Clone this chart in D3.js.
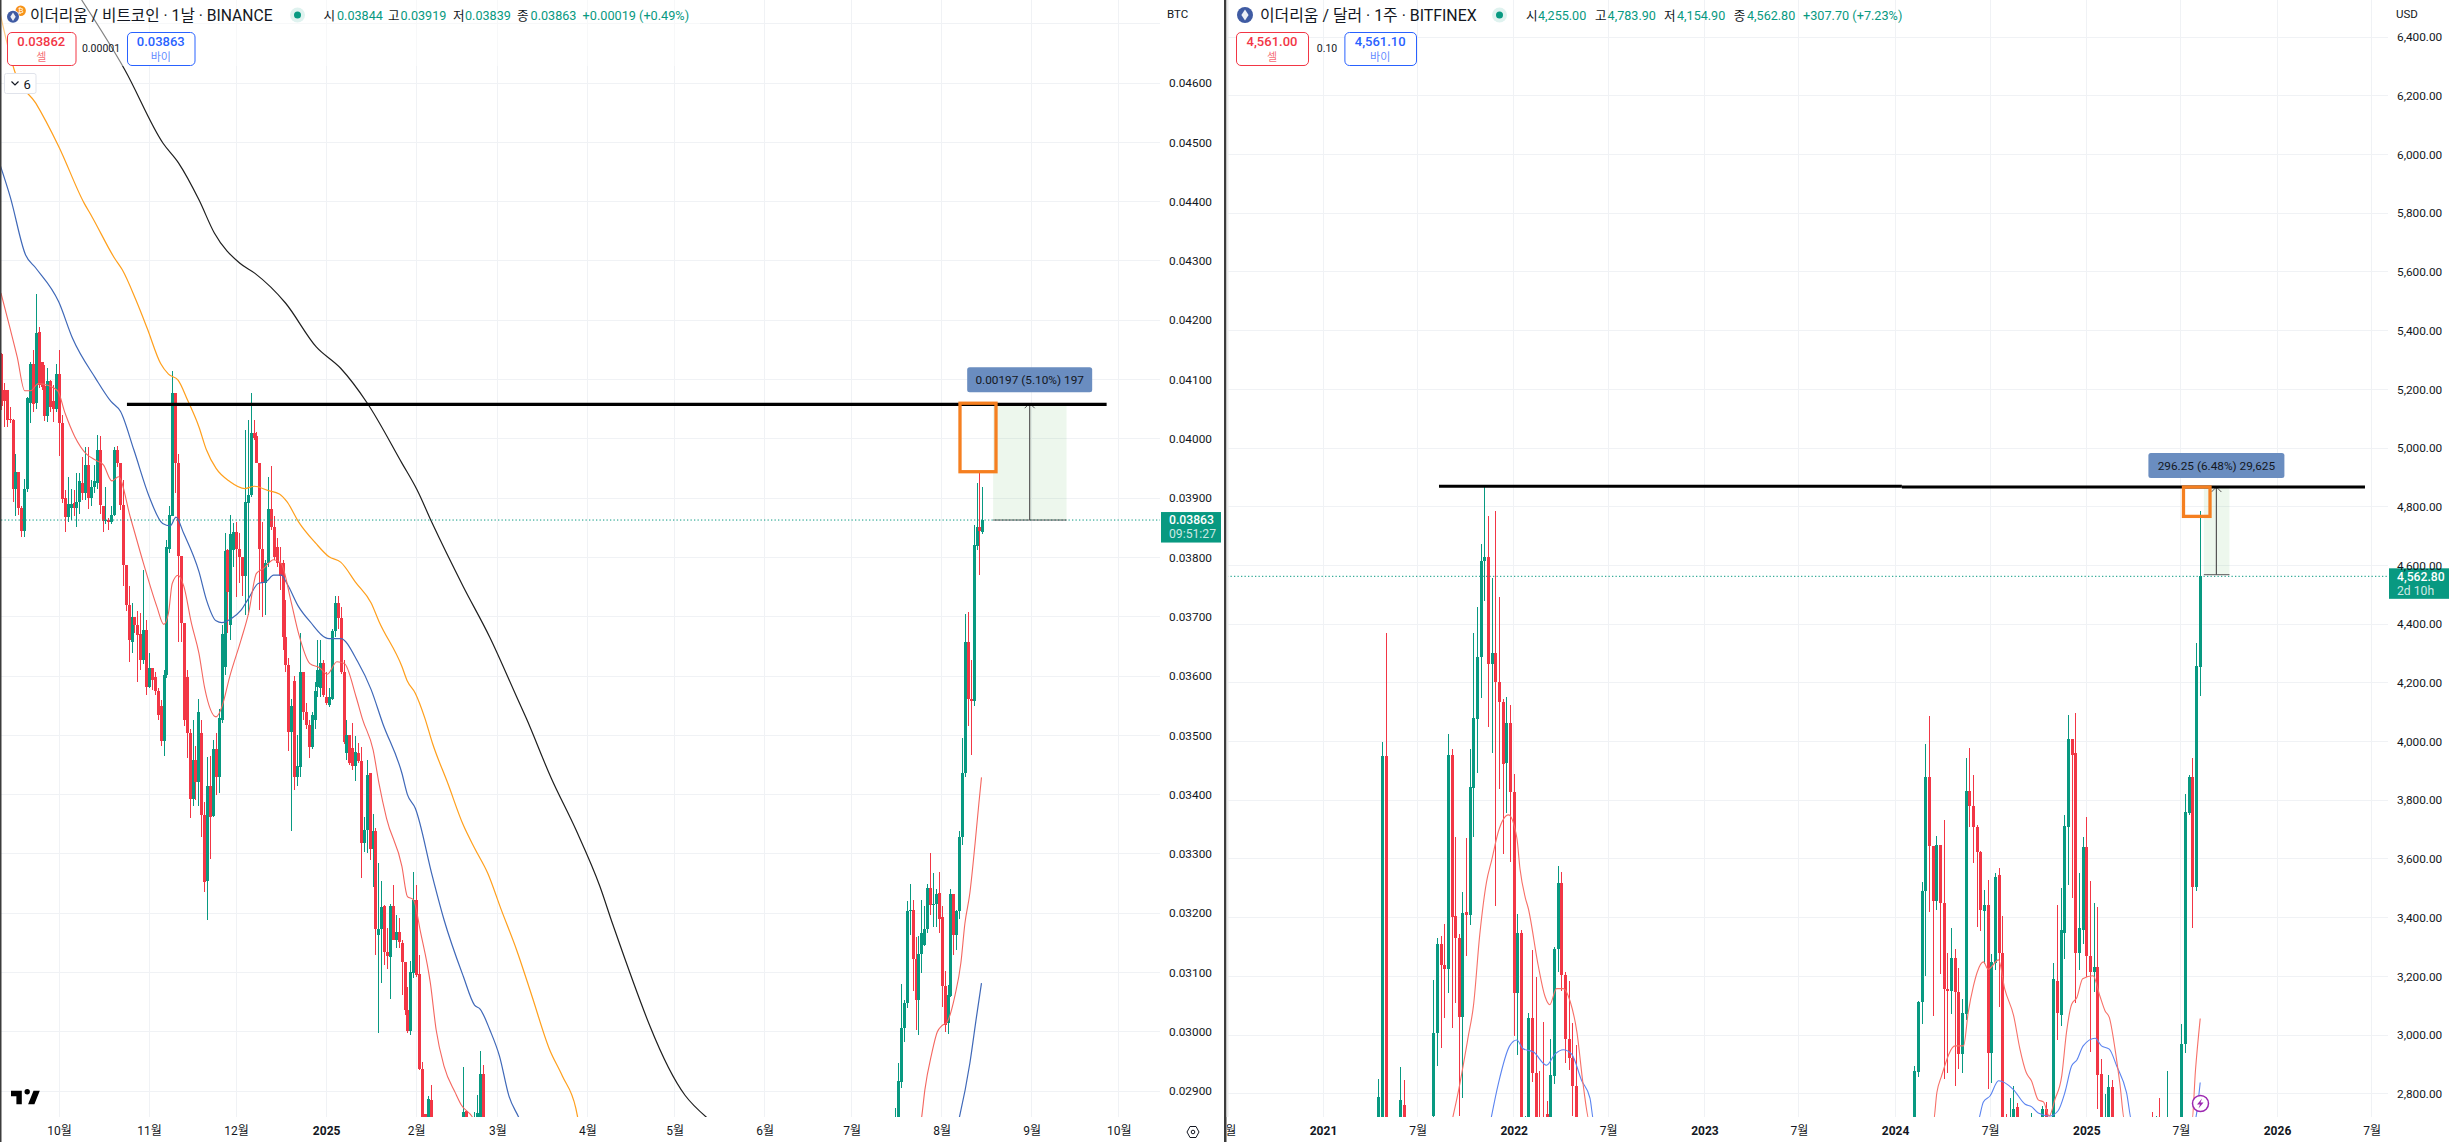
<!DOCTYPE html>
<html lang="ko"><head><meta charset="utf-8">
<script src="https://cdn.jsdelivr.net/npm/d3@7/dist/d3.min.js"></script>
<style>html,body{margin:0;padding:0;background:#fff;overflow:hidden}svg{display:block}
text{font-family:Roboto,'Noto Sans CJK KR',sans-serif}</style></head><body>
<svg id="c" width="2452" height="1142" viewBox="0 0 2452 1142"></svg>
<script>
// ---------- LEFT PANE: ETH/BTC daily, prices in 1e-5 BTC ----------
const leftTickDates=["2024-10-01","2024-11-01","2024-12-01","2025-01-01","2025-02-01","2025-03-01","2025-04-01","2025-05-01","2025-06-01","2025-07-01","2025-08-01","2025-09-01","2025-10-01"];
const leftTickLabels=["10월","11월","12월","2025","2월","3월","4월","5월","6월","7월","8월","9월","10월"];
const leftPriceTicks=[2900,3000,3100,3200,3300,3400,3500,3600,3700,3800,3900,4000,4100,4200,4300,4400,4500,4600];
const leftGridExtra=[4700];
const leftAStart="2024-09-11";
const leftAOpen=[4143,4082,4082,4033,4032,3916,3944,3884,3845,3916,
4060,4126,4060,4180,4130,4089,4038,4097,4063,4051,
4109,4026,3900,3868,3884,3891,3884,3894,3926,3909,
3956,3901,3918,3926,3981,3887,3862,3863,3860,3872,
3981,3959,3888,3787,3719,3658,3700,3686,3671,3627,
3677,3582,3613,3599,3574,3550,3491,3602,3815,3870,
4077,3960,3803,3689,3599,3504,3393,3459,3422,3504,
3366,3255,3415,3364,3477,3430,3526,3616,3813,3686,
3812,3842,3815,3801,3769,3892,3905,4009,4004,3960,
3815,3756,3790,3881,3852,3818,3790,3790,3666,3619,
3505,3591,3430,3447,3607,3540,3518,3480,3526,3582,
3579,3622,3565,3551,3562,3676,3723,3697,3607,3470,
3500,3478,3449,3470,3456,3318,3341,3436,3308,3338,
3164,3174,3212,3134,3126,3212,3155,3169,3149,3117,
3037,3001,3099,3223,3097,2937,2862,2840,2885,
null,null,null,null,null,null,null,null,null,null,2840,2866,null,null,2835,2840,2840,2929];
const leftAHigh=[4144,4094,4082,4054,4034,3974,3944,3886,3932,4071,
4130,4150,4244,4188,4130,4124,4119,4099,4091,4126,
4150,4040,3914,3936,3916,3914,3943,3942,3969,3987,
3987,3931,3956,4006,4004,3887,3919,3866,3886,3987,
3988,3959,3931,3787,3751,3723,3700,3709,3707,3779,
3694,3638,3613,3607,3580,3560,3610,3829,3886,4115,
4077,3975,3803,3689,3610,3510,3526,3482,3562,3526,
3387,3464,3465,3492,3504,3545,3686,3841,3815,3871,
3858,3860,3841,3801,4015,4032,4077,4032,4012,3960,
3860,3796,3936,3954,3869,3832,3818,3796,3728,3630,
3562,3600,3500,3672,3607,3555,3526,3540,3590,3661,
3660,3627,3607,3580,3680,3735,3735,3717,3627,3526,
3500,3520,3498,3487,3481,3363,3459,3436,3367,3343,
3284,3255,3214,3175,3216,3248,3197,3192,3155,3116,
3076,3119,3270,3248,3130,2949,2862,2892,2911,
null,null,null,null,null,null,null,null,null,null,2941,2866,null,null,2865,2894,2968,2944];
const leftALow=[4049,4020,4020,4026,3894,3870,3871,3834,3834,3910,
4027,4046,4050,4085,4082,4030,4029,4046,4029,4046,
3971,3891,3842,3860,3863,3869,3852,3874,3897,3897,
3882,3887,3908,3916,3874,3842,3856,3846,3856,3869,
3953,3880,3751,3710,3624,3638,3672,3590,3610,3621,
3568,3579,3576,3568,3525,3482,3465,3596,3807,3869,
3908,3658,3658,3515,3462,3360,3380,3391,3380,3329,
3235,3188,3292,3362,3400,3403,3521,3602,3672,3661,
3784,3734,3756,3735,3703,3703,3902,3998,3959,3711,
3700,3703,3784,3846,3796,3784,3745,3644,3607,3474,
3338,3408,3414,3430,3526,3510,3462,3477,3510,3565,
3565,3565,3551,3548,3560,3665,3680,3604,3486,3459,
3450,3442,3423,3453,3259,3304,3301,3290,3244,3130,
2998,3082,3113,3106,3055,3154,3141,3141,3062,3029,
2998,2994,3090,3093,2936,2830,2820,2830,2830,
null,null,null,null,null,null,null,null,null,null,2830,2830,null,null,2830,2830,2830,2830];
const leftAClose=[4055,4063,4032,4031,3916,3944,3884,3845,3916,4068,
4126,4059,4178,4091,4088,4038,4097,4054,4051,4109,
4026,3898,3868,3890,3890,3884,3894,3928,3909,3956,
3901,3918,3928,3981,3888,3862,3863,3860,3872,3981,
3959,3888,3787,3719,3660,3700,3686,3669,3627,3677,
3582,3613,3593,3574,3534,3491,3602,3818,3872,4077,
3960,3803,3689,3526,3504,3393,3459,3422,3540,3366,
3253,3415,3363,3477,3430,3530,3670,3810,3741,3840,
3842,3815,3801,3769,3894,3905,4009,4001,3960,3815,
3756,3790,3881,3852,3801,3790,3769,3666,3619,3505,
3549,3430,3448,3607,3540,3518,3481,3534,3574,3610,
3622,3568,3554,3565,3676,3723,3697,3607,3488,3500,
3453,3449,3471,3456,3318,3341,3433,3308,3339,3174,
3174,3210,3134,3127,3212,3155,3169,3151,3117,3037,
3001,3101,3223,3096,2937,2840,2830,2887,2840,
null,null,null,null,null,null,null,null,null,null,2864,2840,null,null,2856,2863,2929,2840];
const leftBStart="2025-07-16";
const leftBOpen=[2820,2830,2916,3006,3048,3204,3205,3122,3054,3131,3146,3173,3242,3215,3215,3234,3194,3078,3014,3061,3232,3163,3203,3328,3436,3658,3562,3557,3820,3851,3843];
const leftBHigh=[2871,2947,3081,3054,3221,3249,3222,3160,3162,3222,3212,3249,3302,3268,3240,3270,3212,3103,3079,3241,3233,3205,3339,3495,3704,3708,3627,3855,3925,3942,3919];
const leftBLow=[2800,2820,2905,2982,3040,3163,3069,3003,2995,3099,3144,3167,3197,3177,3177,3166,3041,3000,2997,3059,3130,3138,3191,3315,3430,3516,3467,3550,3812,3770,3839];
const leftBClose=[2835,2917,3006,3048,3204,3205,3122,3054,3131,3166,3173,3242,3214,3216,3232,3191,3078,3012,3062,3232,3163,3204,3328,3436,3658,3562,3558,3821,3851,3844,3863];
// moving averages: days after 2024-10-01, value
const leftRedDays=[-20,-17,-14.4,-11.8,-9.8,-7.1,-0.6,2.1,5.4,9.3,12.6,15.3,18.2,20.5,24.5,29.1,33.7,36.1,37.7,39,41,43,45.6,48.2,50.2,54.1,56.1,58.8,62.7,65.3,68,70.6,73.9,76.5,79.8,82.5,86.4,89.7,92.4,95.7,98.3,102.3,104.6,108.2,110.2,112.8,118.1,120,122,124.6,127.9,129.9,132.6,136.5,138.5,142.4,145.7,294,297.1,298.2,300.6,302.5,304,305.9,308.6,310.6,312,313.7,315.5,316.8,317.7];
const leftRedValues=[4246,4189,4138,4081,4081,4093,4082,4043,4004,3975,3964,3956,3929,3936,3869,3790,3717,3687,3706,3756,3770,3751,3689,3638,3579,3531,3548,3599,3661,3706,3773,3782,3796,3790,3728,3672,3621,3614,3603,3624,3621,3565,3526,3475,3419,3360,3279,3228,3223,3166,3082,3003,2942,2897,2877,2856,2818,2800,2856,2902,2964,3000,3010,3017,3062,3116,3183,3234,3318,3385,3429];
const leftBlueDays=[-20.3,-16.8,-11.5,-8,-0.1,4.7,12.6,17.9,21.2,25.8,31.1,35.7,38.3,40.3,42.9,48.2,50.8,54.1,56.1,59.4,62.7,65.3,68.6,71.3,73.9,76.5,78.5,82.5,86.4,93,97,102.9,107.5,111.5,118.1,120,122.7,128.6,132.6,139.2,143.1,145.1,148.4,151.7,155,158.3,161.6,307,310.1,313.7,316,317.7];
const leftBlueValues=[4462,4408,4310,4288,4231,4169,4102,4063,4046,3981,3902,3857,3853,3868,3841,3776,3728,3693,3690,3697,3711,3731,3756,3759,3770,3770,3756,3717,3692,3663,3663,3624,3577,3520,3436,3400,3377,3262,3189,3094,3045,3038,3003,2959,2891,2856,2818,2800,2856,2947,3026,3082];
const leftOrangeDays=[-20.3,-15,-8,-0.1,8.7,11.3,19.2,21.8,26.5,30.4,35,37.7,41,44.3,48.2,50.8,54.1,58.8,64,67.3,71.9,75.9,78.5,82.5,88.4,93,97,102.3,107.5,110.2,118.1,120,122.7,126,128.6,133.9,139.2,143.1,147.7,152.3,157.6,162.9,168.8,173.4,178,180];
const leftOrangeValues=[4718,4616,4566,4493,4397,4375,4304,4285,4234,4186,4127,4109,4099,4065,4020,3981,3950,3928,3916,3920,3913,3907,3894,3860,3824,3801,3792,3757,3723,3692,3616,3591,3571,3529,3487,3419,3349,3310,3267,3206,3138,3060,2972,2925,2871,2818];
const leftBlackDays=[7.8,22.7,35.9,41.2,48.2,53.5,62.3,67.5,78,88.6,97,106.2,118.1,123.3,128.6,139.2,148.4,157.6,160.9,169.5,178,186.3,190.8,215.6,223.2];
const leftBlackValues=[4740,4622,4498,4465,4403,4347,4296,4279,4229,4155,4119,4060,3959,3914,3857,3751,3665,3565,3529,3428,3341,3245,3180,2893,2855];
const leftLast=3863, leftTarget=4058;

// ---------- RIGHT PANE: ETH/USD weekly ----------
const rightTickDates=["2020-07-01","2021-01-01","2021-07-01","2022-01-01","2022-07-01","2023-01-01","2023-07-01","2024-01-01","2024-07-01","2025-01-01","2025-07-01","2026-01-01","2026-07-01"];
const rightTickLabels=["7월","2021","7월","2022","7월","2023","7월","2024","7월","2025","7월","2026","7월"];
const rightPriceTicks=[2800,3000,3200,3400,3600,3800,4000,4200,4400,4600,4800,5000,5200,5400,5600,5800,6000,6200,6400];
const rightAStart="2021-04-17";
const rightAOpen=[2700,2700,3950,null,null,null,2700,2760,null,null,null,null,null,null,null,
2725,3007,3311,3239,3224,3953,3404,3329,3060,3419,3410,3843,4078,4289,4616,4627,4263,4300,4203,4135,3927,4063,3828,3144,3349,2690,2700,3058,2872,2700,2720,2730,2700,2860,3293,3519,3203,2988,2920,2827];
const rightAHigh=[2850,4000,4370,null,null,null,2890,2845,null,null,null,null,null,null,null,
3186,3331,3338,3379,4025,3973,3675,3344,3487,3672,3973,4371,4457,4672,4868,4767,4556,4785,4492,4146,4153,4126,3890,3413,3359,2724,3075,3288,3198,2878,3045,2774,2988,3299,3577,3555,3216,3183,3040,2965];
const rightALow=[2680,2680,2680,null,null,null,2680,2680,null,null,null,null,null,null,null,
2700,2893,2956,3058,3143,3025,3108,2724,2785,3269,3374,3676,3893,4149,4480,4050,3961,3439,3837,3616,3755,3589,2998,2932,2680,2650,2680,2840,2680,2660,2680,2680,2680,2833,3213,3150,2905,2882,2724,2680];
const rightAClose=[2790,3950,2700,null,null,null,2780,2700,null,null,null,null,null,null,null,
3007,3311,3239,3224,3953,3401,3329,3060,3416,3410,3845,4081,4289,4616,4627,4263,4300,4203,4135,3923,4063,3828,3144,3349,2700,2700,3058,2872,2700,2680,2700,2700,2863,3293,3519,3203,2988,2920,2827,2700];
const rightBStart="2024-02-07";
const rightBOpen=[2700,2874,3111,3489,3878,3644,3457,3649,3451,3158,3150,3264,3148,2935,3071,3830,3781,3707,3624,3423,3442,2938,3247,3544,3279,2700,2700,2700,2753,null,null,null,2700,null,null,2700,2747,null,2700,3184,3068,3347,3709,4008,3960,3279,3357,3639,3270,3213,3233,2866,2700,2700,2824,null,null,null,null,null,null,null,null,null,null,2710,2700,2710,null,2700,null,null,null,2700,2970,3757,3879,3503,4255];
const rightBHigh=[2895,3116,3522,3991,4087,3644,3679,3649,3732,3279,3364,3292,3228,3122,3945,3977,3885,3715,3627,3493,3527,3275,3551,3568,3406,2730,2785,2827,2768,null,null,null,2733,null,null,2759,2772,null,3245,3442,3500,3749,4090,4008,4096,3551,3676,3744,3524,3451,3437,2918,2798,2863,2846,null,null,null,null,null,null,null,null,null,null,2739,2725,2787,null,2878,null,null,null,3038,3821,3887,3943,4335,4784];
const rightBLow=[2680,2856,3037,3202,3420,3065,3425,3207,2849,2870,3071,2827,2884,2870,3050,3707,3585,3368,3355,3241,2815,2838,3220,3094,2680,2660,2680,2680,2680,null,null,null,2680,null,null,2680,2680,null,2680,2983,3031,3258,3510,3468,3110,3222,3309,3196,2943,3147,2747,2680,2680,2680,2680,null,null,null,null,null,null,null,null,null,null,2680,2680,2680,null,2680,null,null,null,2680,2939,3750,3366,3490,4155];
const rightBClose=[2878,3113,3490,3878,3644,3457,3649,3449,3156,3150,3264,3145,2935,3074,3830,3781,3707,3624,3426,3442,2938,3250,3540,3279,2700,2680,2710,2749,2700,null,null,null,2710,null,null,2747,2700,null,3190,3074,3357,3713,4008,3953,3279,3366,3639,3270,3215,3233,2864,2700,2710,2824,2700,null,null,null,null,null,null,null,null,null,null,2700,2710,2700,null,2710,null,null,null,2970,3760,3879,3503,4256,4563];
// moving averages: days after 2021-01-01, value
const rightRedDays=[246,259,278,288,300,313,323,336,355,371,377,387,393,412,425,434,447,460,473,486,498,511,1168,1175,1184,1210,1226,1235,1245,1252,1264,1273,1293,1305,1322,1334,1346,1356,1369,1379,1390,1401,1414,1423,1433,1443,1454,1474,1487,1497,1505,1516,1525,1535,1663,1670,1679];
const rightRedValues=[2700,2807,2995,3100,3341,3522,3597,3695,3750,3672,3567,3469,3431,3236,3131,3103,3158,3158,3115,3010,2830,2700,2700,2804,2861,2963,2963,3077,3167,3213,3249,3224,3256,3156,3065,2952,2872,2844,2779,2772,2724,2781,2861,3008,3105,3128,3192,3202,3133,3082,3060,2952,2838,2700,2700,2881,3056];
const rightBlueDays=[320,336,357,371,383,403,428,444,460,476,495,511,519,1252,1264,1277,1293,1321,1344,1356,1369,1391,1407,1420,1433,1443,1455,1478,1490,1505,1519,1538,1549,1667,1679];
const rightBlueValues=[2700,2837,2962,2983,2953,2942,2897,2935,2950,2935,2845,2785,2700,2700,2772,2793,2844,2815,2764,2756,2734,2724,2742,2804,2895,2915,2963,2989,2963,2952,2895,2804,2700,2700,2838];
const rightLast=4562.8;

// ---------- colours ----------
const UP="#089981",DOWN="#f23645",GRID="#f0f2f5",TXT="#131722";

const svg=d3.select("#c");
const defs=svg.append("defs");
const parse=d3.utcParse("%Y-%m-%d");
const dayAfter=(base,n)=>new Date(+base+n*864e5);

function candleRows(start,step,o,h,l,c){
  const s=parse(start);
  return o.map((v,i)=>v==null?null:{date:d3.utcDay.offset(s,i*step),o:v,h:h[i],l:l[i],c:c[i]}).filter(Boolean);
}
function drawPane(cfg){
  const {x,y,left,right,bottom,id}=cfg;
  defs.append("clipPath").attr("id",id).append("rect").attr("x",left).attr("y",0).attr("width",right-left).attr("height",bottom);
  defs.append("clipPath").attr("id",id+"a").append("rect").attr("x",left).attr("y",bottom).attr("width",right-left).attr("height",40);
  const grid=svg.append("g").attr("shape-rendering","crispEdges");
  grid.selectAll(".h").data(cfg.gridPrices).join("line").attr("x1",left).attr("x2",right)
    .attr("y1",d=>y(d)).attr("y2",d=>y(d)).attr("stroke",GRID);
  grid.selectAll(".v").data(cfg.tickDates.filter(d=>x(d)>left)).join("line").attr("y1",0).attr("y2",bottom)
    .attr("x1",d=>x(d)).attr("x2",d=>x(d)).attr("stroke",GRID);
  const plot=svg.append("g").attr("clip-path",`url(#${id})`);
  const g=plot.append("g").attr("shape-rendering","crispEdges");
  g.selectAll(".w").data(cfg.candles).join("line")
    .attr("x1",d=>Math.round(x(d.date))+.5).attr("x2",d=>Math.round(x(d.date))+.5)
    .attr("y1",d=>y(d.h)).attr("y2",d=>y(d.l)).attr("stroke",d=>d.c>=d.o?UP:DOWN).attr("stroke-width",1);
  g.selectAll(".b").data(cfg.candles).join("rect")
    .attr("x",d=>Math.round(x(d.date))-1).attr("width",3)
    .attr("y",d=>y(Math.max(d.o,d.c))).attr("height",d=>Math.max(1,Math.abs(y(d.o)-y(d.c))))
    .attr("fill",d=>d.c>=d.o?UP:DOWN);
  const line=d3.line().x(d=>x(d[0])).y(d=>y(d[1])).curve(d3.curveMonotoneX);
  cfg.lines.forEach(L=>{
    plot.append("path").attr("d",line(L.days.map((d,i)=>[dayAfter(cfg.maBase,d),L.values[i]])))
      .attr("fill","none").attr("stroke",L.color).attr("stroke-width",L.width||1.2);
  });
  return plot;
}
function axes(cfg){
  const {x,y,left,right,bottom,id}=cfg;
  const ax=svg.append("g").attr("clip-path",`url(#${id}a)`).attr("transform",`translate(0,0)`)
    .append("g").attr("transform",`translate(0,${bottom})`)
    .call(d3.axisBottom(x).tickValues(cfg.tickDates).tickSize(0).tickPadding(9).tickFormat((d,i)=>cfg.tickLabels[i]));
  ax.select(".domain").remove();
  ax.selectAll("text").attr("font-size",12).attr("fill",TXT)
    .attr("font-family","Roboto,'Noto Sans CJK KR',sans-serif")
    .attr("font-weight",(d,i)=>/^\d{4}$/.test(cfg.tickLabels[i])?700:400);
  const ay=svg.append("g").attr("transform",`translate(${right},0)`)
    .call(d3.axisRight(y).tickValues(cfg.priceTicks).tickSize(0).tickPadding(9).tickFormat(cfg.priceFmt));
  ay.select(".domain").remove();
  ay.selectAll("text").attr("font-size",11.8).attr("fill",TXT).attr("font-family","Roboto,sans-serif");
}
function lastLine(cfg,val,l1,l2){
  const {y,left,right}=cfg;
  svg.append("line").attr("x1",left).attr("x2",right).attr("y1",y(val)).attr("y2",y(val))
    .attr("stroke",UP).attr("stroke-dasharray","1.3 2.2").attr("stroke-width",1);
  const yy=y(val);
  svg.append("rect").attr("x",right+1).attr("y",yy-8).attr("width",60).attr("height",30.5).attr("fill",UP);
  svg.append("text").attr("x",right+9).attr("y",yy+4.3).attr("font-size",12.2).attr("font-weight",500).attr("fill","#fff").text(l1);
  svg.append("text").attr("x",right+9).attr("y",yy+18.3).attr("font-size",12.2).attr("fill","#fff").attr("fill-opacity",.8).text(l2);
}
function measure(cfg,a){
  const {x,y}=cfg;
  const d=n=>x(dayAfter(cfg.maBase,n));
  svg.append("rect").attr("x",d(a.boxFrom)).attr("width",d(a.boxTo)-d(a.boxFrom))
    .attr("y",y(a.top)).attr("height",y(a.bot)-y(a.top)).attr("fill","#4caf50").attr("fill-opacity",.1);
  svg.append("line").attr("x1",d(a.boxFrom)).attr("x2",d(a.boxTo)).attr("y1",y(a.bot)).attr("y2",y(a.bot)).attr("stroke","#555").attr("stroke-width",1);
  svg.append("line").attr("x1",d(a.mid)).attr("x2",d(a.mid)).attr("y1",y(a.bot)).attr("y2",y(a.top)).attr("stroke","#555").attr("stroke-width",1.2);
  const mx=d(a.mid),my=y(a.top);
  svg.append("path").attr("d",`M${mx-5},${my+5}L${mx},${my}L${mx+5},${my+5}`).attr("fill","none").attr("stroke","#555").attr("stroke-width",1);
  a.lines.forEach(L=>{
    svg.append("line").attr("x1",d(L[0])).attr("x2",d(L[1])).attr("y1",y(L[2])).attr("y2",y(L[2]))
      .attr("stroke","#000").attr("stroke-width",a.blackWidth);
  });
  svg.append("rect").attr("x",d(a.rectFrom)).attr("width",d(a.rectTo)-d(a.rectFrom))
    .attr("y",y(a.top)).attr("height",y(a.rectBot)-y(a.top)).attr("fill","none").attr("stroke","#f57f20").attr("stroke-width",3.3);
  svg.append("rect").attr("x",mx-a.labelW/2).attr("y",my-a.labelDy).attr("width",a.labelW).attr("height",25).attr("rx",2.5).attr("fill","#6a8dc0");
  svg.append("text").attr("x",mx).attr("y",my-a.labelDy+16.5).attr("text-anchor","middle").attr("font-size",11.8).attr("fill",TXT).text(a.label);
}
function tradeBox(px,pw,c,val,sub){
  const g=svg.append("g");
  g.append("rect").attr("x",px+.5).attr("y",32.5).attr("width",pw).attr("height",33).attr("rx",4.5).attr("fill","#fff").attr("stroke",c).attr("stroke-width",1);
  g.append("text").attr("x",px+pw/2).attr("y",46).attr("text-anchor","middle").attr("font-size",13).attr("font-weight",500).attr("fill",c).text(val);
  g.append("text").attr("x",px+pw/2).attr("y",60.5).attr("text-anchor","middle").attr("font-size",11).attr("fill",c).attr("fill-opacity",.75).attr("font-family","'Noto Sans CJK KR',sans-serif").text(sub);
}
function header(o){
  svg.append("text").attr("x",o.titleX).attr("y",20.5).attr("font-size",o.titleSize).attr("fill",TXT).attr("font-family","'Noto Sans CJK KR',Roboto,sans-serif").text(o.title);
  svg.append("circle").attr("cx",o.dotX).attr("cy",15).attr("r",7.5).attr("fill",UP).attr("fill-opacity",.13);
  svg.append("circle").attr("cx",o.dotX).attr("cy",15).attr("r",3.5).attr("fill",UP);
  o.items.forEach(it=>{
    svg.append("text").attr("x",it[1]).attr("y",19.5).attr("font-size",12.6).attr("fill",TXT).attr("font-family","'Noto Sans CJK KR',sans-serif").text(it[0]);
    svg.append("text").attr("x",it[3]).attr("y",19.5).attr("font-size",12.6).attr("fill",UP).text(it[2]);
  });
  svg.append("text").attr("x",o.chgX).attr("y",19.5).attr("font-size",12.7).attr("fill",UP).text(o.chg);
}
function ethIcon(cx,cy,r){
  svg.append("circle").attr("cx",cx).attr("cy",cy).attr("r",r).attr("fill","#3f5ba3");
  const s=r/6;
  svg.append("path").attr("transform",`translate(${cx},${cy}) scale(${s})`).attr("d","M0,-4.2L2.7,0L0,4.2L-2.7,0Z").attr("fill","#fff").attr("fill-opacity",.9);
}

// ---------- left pane ----------
const xL=d3.scaleUtc().domain([parse("2024-10-01"),parse("2025-08-01")]).range([59,941.7]);
const yL=d3.scaleLinear().domain([2900,4600]).range([1091.1,83]);
const cfgL={id:"pl",x:xL,y:yL,left:1,right:1160,bottom:1117,maBase:parse("2024-10-01"),
  gridPrices:leftPriceTicks.concat(leftGridExtra),tickDates:leftTickDates.map(parse),tickLabels:leftTickLabels,
  priceTicks:leftPriceTicks,priceFmt:d=>d3.format(".5f")(d/1e5),
  candles:candleRows(leftAStart,1,leftAOpen,leftAHigh,leftALow,leftAClose).concat(candleRows(leftBStart,1,leftBOpen,leftBHigh,leftBLow,leftBClose)),
  lines:[{days:leftBlackDays,values:leftBlackValues,color:"#1e1e1e",width:1.2},
         {days:leftOrangeDays,values:leftOrangeValues,color:"#ff9f1c",width:1.2},
         {days:leftBlueDays,values:leftBlueValues,color:"#3f68b8",width:1.2},
         {days:leftRedDays,values:leftRedValues,color:"#f4665f",width:1.1}]};
drawPane(cfgL);
lastLine(cfgL,leftLast,"0.03863","09:51:27");
measure(cfgL,{boxFrom:321.7,boxTo:347,mid:334.3,top:4060,bot:leftLast,rectFrom:310.3,rectTo:322.7,rectBot:3944.5,
  lines:[[23.4,360.8,leftTarget]],blackWidth:3.2,labelW:125,labelDy:36,label:"0.00197 (5.10%) 197"});
svg.append("rect").attr("x",0).attr("y",0).attr("width",700).attr("height",66).attr("fill","#fff").attr("fill-opacity",.45);
axes(cfgL);

// ---------- right pane ----------
const xR=d3.scaleUtc().domain([parse("2021-01-01"),parse("2026-01-01")]).range([1323,2277]);
const yR=d3.scaleLinear().domain([2800,6400]).range([1093.7,37.1]);
const cfgR={id:"pr",x:xR,y:yR,left:1227,right:2388,bottom:1117,maBase:parse("2021-01-01"),
  gridPrices:rightPriceTicks,tickDates:rightTickDates.map(parse),tickLabels:rightTickLabels,
  priceTicks:rightPriceTicks,priceFmt:d3.format(",.2f"),
  candles:candleRows(rightAStart,7,rightAOpen,rightAHigh,rightALow,rightAClose).concat(candleRows(rightBStart,7,rightBOpen,rightBHigh,rightBLow,rightBClose)),
  lines:[{days:rightBlueDays,values:rightBlueValues,color:"#5b84f0",width:1.1},
         {days:rightRedDays,values:rightRedValues,color:"#f77068",width:1.1}]};
drawPane(cfgR);
lastLine(cfgR,rightLast,"4,562.80","2d 10h");
measure(cfgR,{boxFrom:1686,boxTo:1735,mid:1710,top:4867,bot:4568.3,rectFrom:1647,rectTo:1697.8,rectBot:4767,
  lines:[[222,1108,4870],[1108,1994.4,4867]],blackWidth:3,labelW:136,labelDy:34,label:"296.25 (6.48%) 29,625"});
axes(cfgR);

// ---------- chrome ----------
svg.append("rect").attr("x",0).attr("y",0).attr("width",1.5).attr("height",1142).attr("fill","#3c3c3c");
svg.append("rect").attr("x",1224).attr("y",0).attr("width",2.5).attr("height",1142).attr("fill","#3c3c3c");
svg.append("rect").attr("x",1226.5).attr("y",0).attr("width",2).attr("height",1117).attr("fill","#ececec");

svg.append("circle").attr("cx",20.7).attr("cy",10.7).attr("r",5.2).attr("fill","#f7931a");
svg.append("text").attr("x",20.7).attr("y",13.4).attr("text-anchor","middle").attr("font-size",7.5).attr("fill","#fff").text("₿");
svg.append("circle").attr("cx",13).attr("cy",16.7).attr("r",6.6).attr("fill","#fff");
ethIcon(13,16.7,6);
header({title:"이더리움 / 비트코인 · 1날 · BINANCE",titleX:30,titleSize:15.7,dotX:297.5,
  items:[["시",323.5,"0.03844",337],["고",388,"0.03919",400.5],["저",453,"0.03839",465],["종",517,"0.03863",530.6]],
  chgX:582.6,chg:"+0.00019 (+0.49%)"});
tradeBox(7,68.5,"#f23645","0.03862","셀");
tradeBox(127,67.5,"#2962ff","0.03863","바이");
svg.append("text").attr("x",101).attr("y",52).attr("text-anchor","middle").attr("font-size",10.5).attr("fill",TXT).text("0.00001");
svg.append("rect").attr("x",4.5).attr("y",73.5).attr("width",31.5).attr("height",20).attr("rx",2).attr("fill","#fff").attr("stroke","#e0e3eb");
svg.append("path").attr("d","M11.5,81.5l3.5,3.5l3.5,-3.5").attr("fill","none").attr("stroke",TXT).attr("stroke-width",1.2);
svg.append("text").attr("x",23.5).attr("y",88.5).attr("font-size",13).attr("fill",TXT).text("6");
svg.append("text").attr("x",1167).attr("y",18).attr("font-size",11.5).attr("fill",TXT).text("BTC");
svg.append("text").attr("x",2396).attr("y",18).attr("font-size",11.5).attr("fill",TXT).text("USD");

ethIcon(1245,15,8);
header({title:"이더리움 / 달러 · 1주 · BITFINEX",titleX:1260,titleSize:15.9,dotX:1499.5,
  items:[["시",1526,"4,255.00",1538],["고",1595,"4,783.90",1607.6],["저",1664,"4,154.90",1677],["종",1733.7,"4,562.80",1747]],
  chgX:1803,chg:"+307.70 (+7.23%)"});
tradeBox(1236,72,"#f23645","4,561.00","셀");
tradeBox(1344.4,71.6,"#2962ff","4,561.10","바이");
svg.append("text").attr("x",1327).attr("y",52).attr("text-anchor","middle").attr("font-size",10.5).attr("fill",TXT).text("0.10");

// tradingview mark
svg.append("path").attr("transform","translate(9.2,1085.4) scale(.9)").attr("fill","#000")
  .attr("d","M14 6H2v6h6v9h6V6zm14 15h-7l6-15h7l-6 15zm-8-11a3 3 0 1 0 0-6 3 3 0 0 0 0 6z");
// settings hex
svg.append("path").attr("d","M1187,1132l3,-5.5h6l3,5.5l-3,5.5h-6z").attr("fill","none").attr("stroke",TXT).attr("stroke-width",1);
svg.append("circle").attr("cx",1193).attr("cy",1132).attr("r",1.8).attr("fill","none").attr("stroke",TXT);
// lightning badge
svg.append("circle").attr("cx",2200.5).attr("cy",1103.5).attr("r",8).attr("fill","#fff").attr("stroke","#9c27b0").attr("stroke-width",1.5);
svg.append("path").attr("d","M2202,1098.5l-5,6h3l-1.5,4l5,-6h-3z").attr("fill","#9c27b0");
</script></body></html>
